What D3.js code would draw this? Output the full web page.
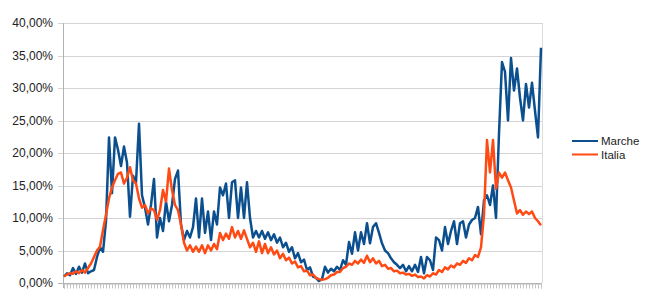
<!DOCTYPE html>
<html>
<head>
<meta charset="utf-8">
<script src="https://cdn.jsdelivr.net/npm/d3@7"></script>
<style>
  body { margin: 0; background: #fff; }
  text { font-family: "Liberation Sans", Arial, sans-serif; }
</style>
</head>
<body>
<svg id="chart" width="650" height="302"></svg>
<script>
// tasso di positività (%) - one value every few days
const marche = [
  1.0, 1.5, 1.2, 2.3, 1.4, 2.5, 1.6, 3.0, 1.5, 1.8,
  2.0, 4.0, 5.5, 4.8, 9.5, 22.4, 13.8, 22.4, 20.5, 18.0,
  21.0, 18.5, 10.2, 16.5, 15.5, 24.5, 13.5, 11.6, 9.0, 12.0,
  16.0, 7.0, 10.0, 8.0, 12.5, 9.5, 12.0, 16.0, 17.3, 9.0,
  6.6, 8.0, 7.0, 8.6, 13.0, 7.0, 13.0, 7.7, 11.0, 6.6,
  11.0, 9.0, 14.7, 13.5, 15.3, 10.0, 15.5, 15.8, 10.0, 14.7,
  10.0, 15.5, 10.0, 7.0, 8.0, 7.0, 8.0, 6.8, 7.8, 6.6,
  7.5, 6.2, 7.0, 5.5, 6.2, 4.8, 5.5, 3.8, 4.6, 3.2,
  3.6, 2.0, 2.4, 1.0, 0.8, 0.3, 0.6, 2.5, 1.6, 2.2,
  1.8, 2.5, 2.0, 3.5, 2.8, 6.3, 4.5, 7.8, 5.0, 7.8,
  6.0, 9.2, 6.1, 8.6, 9.2, 7.7, 6.1, 5.0, 4.6, 3.8,
  3.2, 2.8, 2.3, 2.8, 1.8, 2.6, 1.8, 2.8, 1.7, 4.0,
  1.5, 4.0, 3.5, 2.0, 7.0, 6.6, 5.0, 8.6, 6.0, 8.0,
  9.5, 6.0, 9.2, 9.5, 7.0, 9.0, 9.7, 10.0, 11.7, 7.5,
  12.7, 13.5, 12.0, 15.0, 10.0, 23.0, 34.0, 32.5, 25.0, 34.6,
  29.6, 33.0, 28.5, 25.0, 30.6, 27.0, 30.8, 26.5, 22.4, 36.2
];

const italia = [
  1.0, 1.3, 1.5, 1.4, 1.8, 1.5, 2.0, 1.6, 2.3, 3.0,
  4.0, 5.0, 5.6, 8.1, 10.5, 13.0, 14.7, 15.8, 16.8, 17.0,
  15.3, 16.2, 17.8, 15.8, 15.3, 13.0, 11.6, 12.0, 10.7, 11.5,
  11.2, 9.7, 11.2, 14.3, 12.5, 17.6, 14.3, 12.0, 11.2, 9.0,
  6.2, 5.0, 5.8, 4.8, 5.6, 4.8, 5.8, 4.6, 5.8, 5.0,
  6.0, 5.2, 7.7, 6.6, 7.6, 6.8, 8.6, 7.0, 8.0, 6.8,
  8.1, 6.8, 5.5, 6.2, 4.8, 6.4, 4.6, 6.0, 4.6, 5.5,
  4.4, 5.0, 3.8, 4.5, 3.5, 3.9, 3.0, 3.3, 2.4, 2.6,
  1.8, 1.9, 1.2, 1.3, 0.8, 0.6, 0.5, 0.6, 0.8, 1.2,
  1.3, 1.7, 1.7, 2.3, 2.5, 3.0, 2.8, 3.4, 3.0, 3.6,
  3.1, 4.2, 3.2, 3.8, 3.0, 3.4, 2.6, 2.8, 2.2, 2.3,
  1.8, 1.9, 1.5, 1.6, 1.3, 1.4, 1.1, 1.3, 0.9, 1.0,
  0.7, 1.2, 1.0, 1.5, 1.3, 2.0, 1.7, 2.4, 2.1, 2.7,
  2.4, 3.0, 2.8, 3.4, 3.1, 3.8, 3.5, 4.3, 4.0, 5.5,
  10.5, 22.0, 17.0, 22.0, 14.5, 17.0, 16.2, 17.0, 15.8, 14.7,
  12.7, 10.7, 11.2, 10.5, 11.0, 10.6, 11.0, 10.0, 9.5, 8.9
];

const seriesNames = ['Marche', 'Italia'];
const seriesColors = ['#0b4f8f', '#ff4a14'];
const yTicks = [0, 5, 10, 15, 20, 25, 30, 35, 40];

const margin = { top: 23, right: 108, bottom: 19, left: 63 };
const width = 650, height = 302;

const svg = d3.select('#chart');

const days = d3.range(marche.length);

const x = d3.scalePoint()
    .domain(days)
    .range([margin.left + 1, width - margin.right - 1]);

const y = d3.scaleLinear()
    .domain([0, 40])
    .range([height - margin.bottom, margin.top]);

const fmt = v => d3.format('.2f')(v).replace('.', ',') + '%';

// grid
svg.append('g')
    .selectAll('line')
    .data(yTicks)
    .enter()
    .append('line')
        .attr('x1', margin.left - 5)
        .attr('x2', width - margin.right)
        .attr('y1', d => Math.round(y(d)) + 0.5)
        .attr('y2', d => Math.round(y(d)) + 0.5)
        .attr('stroke', d => d === 0 ? '#b3b3b3' : '#d4d4d4')
        .attr('stroke-width', 1);

// y labels
svg.append('g')
    .selectAll('text')
    .data(yTicks)
    .enter()
    .append('text')
        .attr('x', margin.left - 10)
        .attr('y', d => y(d))
        .attr('dy', '0.35em')
        .attr('text-anchor', 'end')
        .attr('font-size', 12)
        .attr('fill', '#222')
        .text(fmt);

// y axis + right frame line
svg.append('line')
    .attr('x1', margin.left + 0.5).attr('x2', margin.left + 0.5)
    .attr('y1', y(40)).attr('y2', y(0) + 5)
    .attr('stroke', '#b3b3b3');
svg.append('line')
    .attr('x1', width - margin.right + 0.5).attr('x2', width - margin.right + 0.5)
    .attr('y1', y(40)).attr('y2', y(0))
    .attr('stroke', '#dcdcdc');

// x axis: a tick per category, no labels
const xAxis = svg.append('g')
    .attr('transform', 'translate(0,' + (Math.round(y(0)) + 0.5) + ')')
    .call(d3.axisBottom(x).tickValues(days).tickSize(5).tickFormat(''));
xAxis.select('.domain').attr('stroke', '#b3b3b3');
xAxis.selectAll('.tick line').attr('stroke', '#c4c4c4');

// series
const line = d3.line()
    .x((d, i) => x(i))
    .y(d => y(d));

[marche, italia].forEach(function(values, k) {
    svg.append('path')
        .datum(values)
        .attr('fill', 'none')
        .attr('stroke', seriesColors[k])
        .attr('stroke-width', 2.5)
        .attr('stroke-linejoin', 'round')
        .attr('d', line);
});

// legend
const legend = svg.append('g')
    .attr('transform', 'translate(572,141)');

seriesNames.forEach(function(name, k) {
    legend.append('line')
        .attr('x1', 0).attr('x2', 26)
        .attr('y1', k * 13.5).attr('y2', k * 13.5)
        .attr('stroke', seriesColors[k])
        .attr('stroke-width', 2);
    legend.append('text')
        .attr('x', 29)
        .attr('y', k * 13.5)
        .attr('dy', '0.35em')
        .attr('font-size', 11.5)
        .attr('fill', '#222')
        .text(name);
});
</script>
</body>
</html>
